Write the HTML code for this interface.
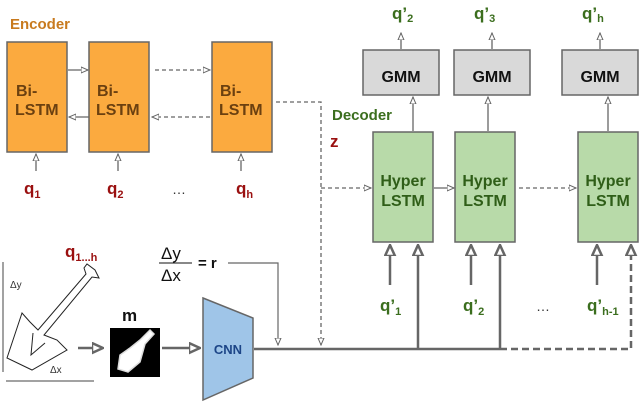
<!DOCTYPE html>
<html><head><meta charset="utf-8"><style>
body{margin:0;background:#fff}
svg{display:block}
text{font-family:"Liberation Sans",sans-serif}
</style></head><body>
<svg width="640" height="402" viewBox="0 0 640 402" xmlns="http://www.w3.org/2000/svg">
<defs>
<marker id="a" markerWidth="8" markerHeight="8" refX="7" refY="4" orient="auto" markerUnits="userSpaceOnUse"><path d="M0,1 L7,4 L0,7 Z" fill="#fff" stroke="#666" stroke-width="1"/></marker>
<marker id="b" markerWidth="12" markerHeight="14" refX="11" refY="6" orient="auto" markerUnits="userSpaceOnUse"><path d="M0,1 L11,6 L0,11 Z" fill="#fff" stroke="#666" stroke-width="2.5"/></marker>
</defs>
<g stroke="#666" fill="none">
<!-- encoder -->
<text x="10" y="29" font-size="15" font-weight="bold" fill="#c87a1e" stroke="none">Encoder</text>
<rect x="7" y="42" width="60" height="110" fill="#fbaa3f" stroke-width="1.5"/>
<rect x="89" y="42" width="60" height="110" fill="#fbaa3f" stroke-width="1.5"/>
<rect x="212" y="42" width="60" height="110" fill="#fbaa3f" stroke-width="1.5"/>
<g fill="#6b4010" stroke="none" font-size="16" font-weight="bold">
<text x="16" y="96">Bi-</text><text x="15" y="115">LSTM</text>
<text x="97" y="96">Bi-</text><text x="96" y="115">LSTM</text>
<text x="220" y="96">Bi-</text><text x="219" y="115">LSTM</text>
</g>
<line x1="68" y1="70" x2="88" y2="70" marker-end="url(#a)" stroke-width="1.3"/>
<line x1="89" y1="117" x2="69" y2="117" marker-end="url(#a)" stroke-width="1.3"/>
<line x1="155" y1="70" x2="210" y2="70" marker-end="url(#a)" stroke-dasharray="4,3" stroke-width="1.3"/>
<line x1="210" y1="117" x2="152" y2="117" marker-end="url(#a)" stroke-dasharray="4,3" stroke-width="1.3"/>
<line x1="36" y1="171" x2="36" y2="154" marker-end="url(#a)" stroke-width="1.3"/>
<line x1="118" y1="171" x2="118" y2="154" marker-end="url(#a)" stroke-width="1.3"/>
<line x1="241" y1="171" x2="241" y2="154" marker-end="url(#a)" stroke-width="1.3"/>
<g fill="#9a1010" stroke="none" font-weight="bold">
<text x="24" y="194" font-size="17">q<tspan font-size="11" dy="4">1</tspan></text>
<text x="107" y="194" font-size="17">q<tspan font-size="11" dy="4">2</tspan></text>
<text x="236" y="194" font-size="17">q<tspan font-size="11" dy="4">h</tspan></text>
<text x="330" y="147" font-size="17">z</text>
<text x="65" y="257" font-size="17">q<tspan font-size="11" dy="4">1...h</tspan></text>
</g>
<text x="172" y="194" font-size="14" fill="#333" stroke="none">…</text>
<!-- z dashed -->
<polyline points="276,102 321,102 321,345" stroke-dasharray="4,3" stroke-width="1.3" marker-end="url(#a)"/>
<line x1="321" y1="188" x2="371" y2="188" stroke-dasharray="4,3" stroke-width="1.3" marker-end="url(#a)"/>
<!-- GMM -->
<rect x="363" y="50" width="76" height="45" fill="#d9d9d9" stroke-width="1.5"/>
<rect x="454" y="50" width="76" height="45" fill="#d9d9d9" stroke-width="1.5"/>
<rect x="562" y="50" width="76" height="45" fill="#d9d9d9" stroke-width="1.5"/>
<g fill="#111" stroke="none" font-size="16" font-weight="bold" text-anchor="middle">
<text x="401" y="82">GMM</text><text x="492" y="82">GMM</text><text x="600" y="82">GMM</text>
</g>
<line x1="401" y1="49" x2="401" y2="33" marker-end="url(#a)" stroke-width="1.3"/>
<line x1="492" y1="49" x2="492" y2="33" marker-end="url(#a)" stroke-width="1.3"/>
<line x1="600" y1="49" x2="600" y2="33" marker-end="url(#a)" stroke-width="1.3"/>
<g fill="#3b6e1e" stroke="none" font-weight="bold">
<text x="392" y="19" font-size="17">q’<tspan font-size="11" dy="3">2</tspan></text>
<text x="474" y="19" font-size="17">q’<tspan font-size="11" dy="3">3</tspan></text>
<text x="582" y="19" font-size="17">q’<tspan font-size="11" dy="3">h</tspan></text>
<text x="332" y="120" font-size="15">Decoder</text>
<text x="380" y="311" font-size="17">q’<tspan font-size="11" dy="4">1</tspan></text>
<text x="463" y="311" font-size="17">q’<tspan font-size="11" dy="4">2</tspan></text>
<text x="587" y="311" font-size="17">q’<tspan font-size="11" dy="4">h-1</tspan></text>
</g>
<text x="536" y="311" font-size="14" fill="#333" stroke="none">…</text>
<line x1="413" y1="131" x2="413" y2="97" marker-end="url(#a)" stroke-width="1.3"/>
<line x1="488" y1="131" x2="488" y2="97" marker-end="url(#a)" stroke-width="1.3"/>
<line x1="608" y1="131" x2="608" y2="97" marker-end="url(#a)" stroke-width="1.3"/>
<!-- Hyper -->
<rect x="373" y="132" width="60" height="110" fill="#b8daa9" stroke-width="1.5"/>
<rect x="455" y="132" width="60" height="110" fill="#b8daa9" stroke-width="1.5"/>
<rect x="578" y="132" width="60" height="110" fill="#b8daa9" stroke-width="1.5"/>
<g fill="#2f5e18" stroke="none" font-size="16" font-weight="bold" text-anchor="middle">
<text x="403" y="186">Hyper</text><text x="403" y="206">LSTM</text>
<text x="485" y="186">Hyper</text><text x="485" y="206">LSTM</text>
<text x="608" y="186">Hyper</text><text x="608" y="206">LSTM</text>
</g>
<line x1="434" y1="188" x2="454" y2="188" marker-end="url(#a)" stroke-width="1.3"/>
<line x1="519" y1="188" x2="576" y2="188" marker-end="url(#a)" stroke-dasharray="4,3" stroke-width="1.3"/>
<!-- input arrows -->
<g stroke-width="2.5">
<line x1="390" y1="285" x2="390" y2="245" marker-end="url(#b)"/>
<line x1="471" y1="285" x2="471" y2="245" marker-end="url(#b)"/>
<line x1="597" y1="285" x2="597" y2="245" marker-end="url(#b)"/>
<line x1="418" y1="349" x2="418" y2="245" marker-end="url(#b)"/>
<line x1="500" y1="349" x2="500" y2="245" marker-end="url(#b)"/>
<polyline points="500,349 631,349 631,245" stroke-dasharray="7,4" marker-end="url(#b)"/>
<line x1="254" y1="349" x2="500" y2="349"/>
<line x1="78" y1="348" x2="103" y2="348" marker-end="url(#b)"/>
<line x1="162" y1="348" x2="200" y2="348" marker-end="url(#b)"/>
</g>
<!-- r -->
<g fill="#111" stroke="none" font-size="17">
<text x="161" y="259">Δy</text><text x="161" y="281">Δx</text><text x="198" y="268" font-weight="bold" font-size="15">= r</text>
</g>
<line x1="159" y1="263" x2="192" y2="263" stroke="#111" stroke-width="1"/>
<polyline points="228,263 278,263 278,345" stroke-width="1.2" marker-end="url(#a)"/>
<!-- CNN -->
<polygon points="203,298 253,318 253,378 203,400" fill="#9fc5e8" stroke-width="1.5"/>
<text x="228" y="354" font-size="13" font-weight="bold" fill="#1c4587" stroke="none" text-anchor="middle">CNN</text>
<!-- mask -->
<rect x="110" y="328" width="50" height="49" fill="#000" stroke="none"/>
<path d="M118,369 L120,355 L130,348 L140,340 L150,330 L154,334 L145,344 L140,362 L128,372 Z" fill="#fff" stroke="#ddd" stroke-width="1.5"/>
<text x="122" y="321" font-size="17" font-weight="bold" fill="#111" stroke="none">m</text>
<!-- sketch -->
<line x1="3" y1="262" x2="3" y2="372" stroke="#444" stroke-width="1"/>
<line x1="6" y1="381" x2="94" y2="381" stroke="#444" stroke-width="1"/>
<text x="10" y="288" font-size="10" fill="#333" stroke="none">Δy</text>
<text x="50" y="373" font-size="10" fill="#333" stroke="none">Δx</text>
<path d="M22,313 L7,358 L32,370 L67,350 L57,340 L44,335 L92,277 L99,278 L95,270 L87,264 L84,268 L86,274 L38,330 L30,322 Z M33,333 L31,355 L45,343" stroke="#222" stroke-width="1" fill="none"/>
</g>
</svg>
</body></html>
